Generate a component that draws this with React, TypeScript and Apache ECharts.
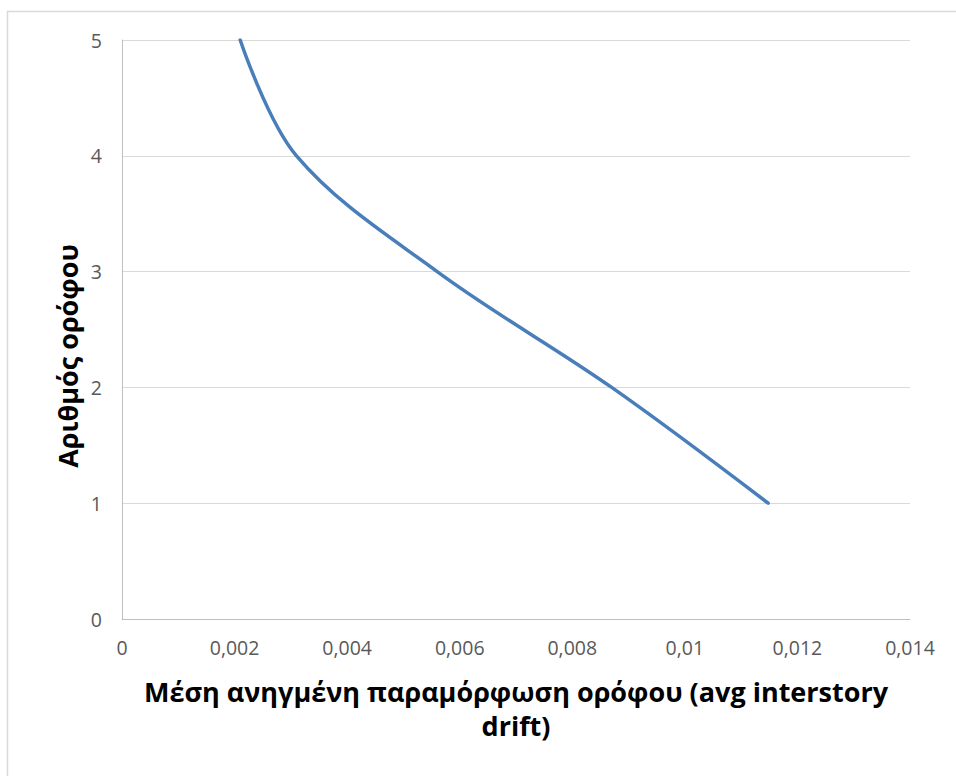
import React, { useEffect, useRef } from "react";
import * as echarts from "echarts";

// Average interstory drift per floor
const floors = [1, 2, 3, 4, 5];
const drift = [0.01148, 0.0087, 0.0056, 0.0031, 0.0021];

const xTicks = { min: 0, max: 0.014, interval: 0.002 };
const yTicks = { min: 0, max: 5, interval: 1 };

const xTitleLines = ["Μέση ανηγμένη παραμόρφωση ορόφου (avg interstory", "drift)"];
const yTitle = "Αριθμός ορόφου";

const FONT = "'Open Sans', 'Noto Sans', sans-serif";

const fmt = (v: number) => String(Number(v.toPrecision(6))).replace(".", ",");

export default function App() {
  const ref = useRef<HTMLDivElement>(null);

  useEffect(() => {
    if (!ref.current) return;
    const chart = echarts.init(ref.current, undefined, { renderer: "svg" });
    const points = drift.map((d, i) => [d, floors[i]]);
    chart.setOption({
      animation: false,
      backgroundColor: "#ffffff",
      grid: { left: 122, right: 46, top: 40, bottom: 157 },
      xAxis: {
        type: "value",
        min: xTicks.min,
        max: xTicks.max,
        interval: xTicks.interval,
        axisLine: { show: true, lineStyle: { color: "#bfbfbf", width: 1 } },
        axisTick: { show: false },
        splitLine: { show: false },
        axisLabel: {
          color: "#595959",
          fontFamily: FONT,
          fontSize: 19.5,
          margin: 18,
          formatter: (v: number) => fmt(v),
        },
      },
      yAxis: {
        type: "value",
        min: yTicks.min,
        max: yTicks.max,
        interval: yTicks.interval,
        axisLine: { show: true, lineStyle: { color: "#bfbfbf", width: 1 } },
        axisTick: { show: false },
        splitLine: { show: true, lineStyle: { color: "#d9d9d9", width: 1 } },
        axisLabel: {
          color: "#595959",
          fontFamily: FONT,
          fontSize: 19.5,
          margin: 20,
        },
      },
      series: [
        {
          type: "line",
          data: points,
          smooth: 0.35,
          showSymbol: false,
          lineStyle: { color: "#4a7ebb", width: 3.5, cap: "round" },
        },
      ],
      graphic: [
        {
          type: "polyline",
          silent: true,
          shape: { points: [[7.5, 800], [7.5, 11.5], [1000, 11.5]] },
          style: { stroke: "#d9d9d9", lineWidth: 1.5, fill: null },
        },
        {
          type: "text",
          x: 516,
          y: 674,
          style: {
            text: xTitleLines.join("\n"),
            font: `bold 27px ${FONT}`,
            fill: "#000000",
            align: "center",
            verticalAlign: "top",
            lineHeight: 34,
          },
        },
        {
          type: "text",
          x: 67,
          y: 356,
          rotation: Math.PI / 2,
          style: {
            text: yTitle,
            font: `bold 27px ${FONT}`,
            fill: "#000000",
            align: "center",
            verticalAlign: "middle",
          },
        },
      ],
    });
    return () => chart.dispose();
  }, []);

  return (
    <div
      ref={ref}
      style={{ position: "fixed", left: 0, top: 0, width: 956, height: 776 }}
    />
  );
}
